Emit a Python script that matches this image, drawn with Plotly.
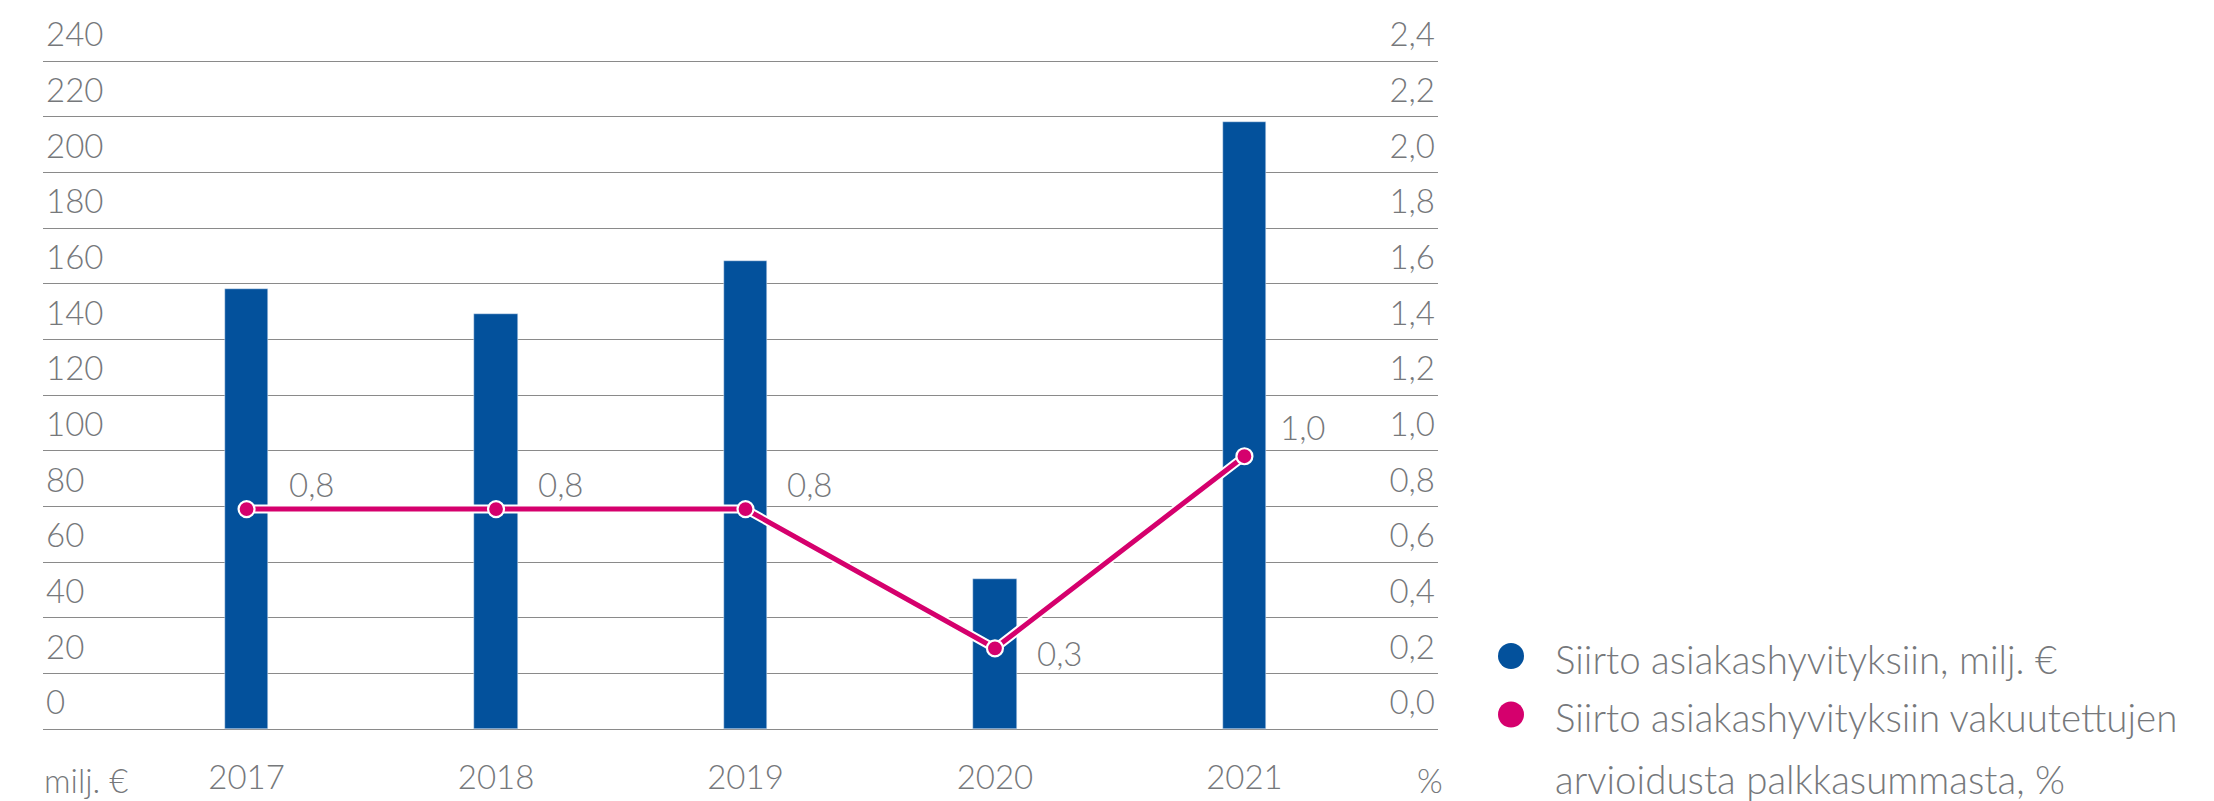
import plotly.graph_objects as go

years = ["2017", "2018", "2019", "2020", "2021"]
transfer_meur = [158, 149, 168, 54, 218]
transfer_pct = [0.79, 0.79, 0.79, 0.29, 0.98]

bar_name = "Siirto asiakashyvityksiin, milj. €"
line_name_lines = ["Siirto asiakashyvityksiin vakuutettujen",
                   "arvioidusta palkkasummasta, %"]

left_ticks = list(range(0, 241, 20))
right_ticks = [i / 10 for i in range(0, 25, 2)]

BLUE = "#03519C"
PINK = "#D5006D"
GREY = "#76787B"
GRID = "#8A8A8A"
FONT = "Lato Light, Lato, sans-serif"

# The page body has an 8px margin; work in screen pixels and convert.
OFF = 8
W, H = 2214 - OFF, 801 - OFF
PL_S, PR_S, PT_S, PB_S = 43, 1438, 12, 732   # plot area in screen px
ML, MR = PL_S - OFF, W - (PR_S - OFF)
MT, MB = PT_S - OFF, H - (PB_S - OFF)
PW, PH = W - ML - MR, H - MT - MB
Y0_S, Y240_S = 729, 61
ppu = (Y0_S - Y240_S) / 240.0
y_hi = 240 + (Y240_S - PT_S) / ppu
y_lo = -(PB_S - Y0_S) / ppu


def px(xs):
    return (xs - PL_S) / PW


def py(ys):
    return (PB_S - ys) / PH


def tfont(size=33):
    return dict(family=FONT, size=size, color=GREY, weight=300)


fig = go.Figure()

fig.add_trace(go.Bar(
    x=years, y=transfer_meur, name=bar_name, marker_color=BLUE,
    width=0.174, showlegend=False, yaxis="y",
))
# white halo behind the line
fig.add_trace(go.Scatter(
    x=years, y=transfer_pct, mode="lines", yaxis="y2",
    line=dict(color="white", width=9), showlegend=False, hoverinfo="skip",
))
fig.add_trace(go.Scatter(
    x=years, y=transfer_pct, mode="lines+markers", yaxis="y2",
    name=" ".join(line_name_lines),
    line=dict(color=PINK, width=5),
    marker=dict(size=16, color=PINK, line=dict(color="white", width=2.2)),
    showlegend=False,
))

# data labels for the percentage series
shifts = [(65, 25), (65, 25), (65, 25), (65, -5), (59, 29)]
for i, (v, (dx, dy)) in enumerate(zip(transfer_pct, shifts)):
    fig.add_annotation(
        x=i, y=v, xref="x", yref="y2", text=f"{v:.1f}".replace(".", ","),
        showarrow=False, xshift=dx, yshift=dy, font=tfont(33),
    )

# axis unit labels
fig.add_annotation(x=px(42), y=py(780), xref="paper", yref="paper", text="milj. €",
                   showarrow=False, xanchor="left", yanchor="middle", font=tfont(33))
fig.add_annotation(x=px(1445), y=py(780), xref="paper", yref="paper", text="%",
                   showarrow=False, xanchor="right", yanchor="middle", font=tfont(33))

# legend (drawn manually to match the large round keys)
legend_items = [
    (BLUE, 656, [(bar_name, 659)]),
    (PINK, 714.5, [(line_name_lines[0], 717), (line_name_lines[1], 779)]),
]
for color, cy, lines in legend_items:
    fig.add_shape(
        type="circle", xref="paper", yref="paper",
        xsizemode="pixel", ysizemode="pixel",
        xanchor=px(1511), yanchor=py(cy),
        x0=-13, x1=13, y0=-13, y1=13,
        fillcolor=color, line=dict(width=0),
    )
    for txt, ty in lines:
        fig.add_annotation(
            x=px(1553), y=py(ty), xref="paper", yref="paper", text=txt,
            showarrow=False, xanchor="left", yanchor="middle", font=tfont(38.5),
        )

fig.update_layout(
    width=W, height=H,
    margin=dict(l=ML, r=MR, t=MT, b=MB, autoexpand=False),
    paper_bgcolor="white", plot_bgcolor="white",
    font=tfont(33),
    bargap=0,
    showlegend=False,
    separators=",.",
    xaxis=dict(
        type="category", range=[-0.816, 4.776], showgrid=False, zeroline=False,
        showline=False, ticks="", ticklabelstandoff=23, tickfont=tfont(33),
    ),
    yaxis=dict(
        range=[y_lo, y_hi], tickvals=left_ticks, showgrid=True, gridcolor=GRID,
        gridwidth=1.4, zeroline=False, showline=False, ticks="",
        ticklabelposition="inside top", ticklabelshift=-3, tickfont=tfont(33),
    ),
    yaxis2=dict(
        range=[y_lo / 100, y_hi / 100], tickvals=right_ticks, overlaying="y",
        side="right", showgrid=False, zeroline=False, showline=False, ticks="",
        ticklabelposition="inside top", ticklabelshift=-3, tickformat=".1f",
        tickfont=tfont(33),
    ),
)

fig.write_html("out.html")
